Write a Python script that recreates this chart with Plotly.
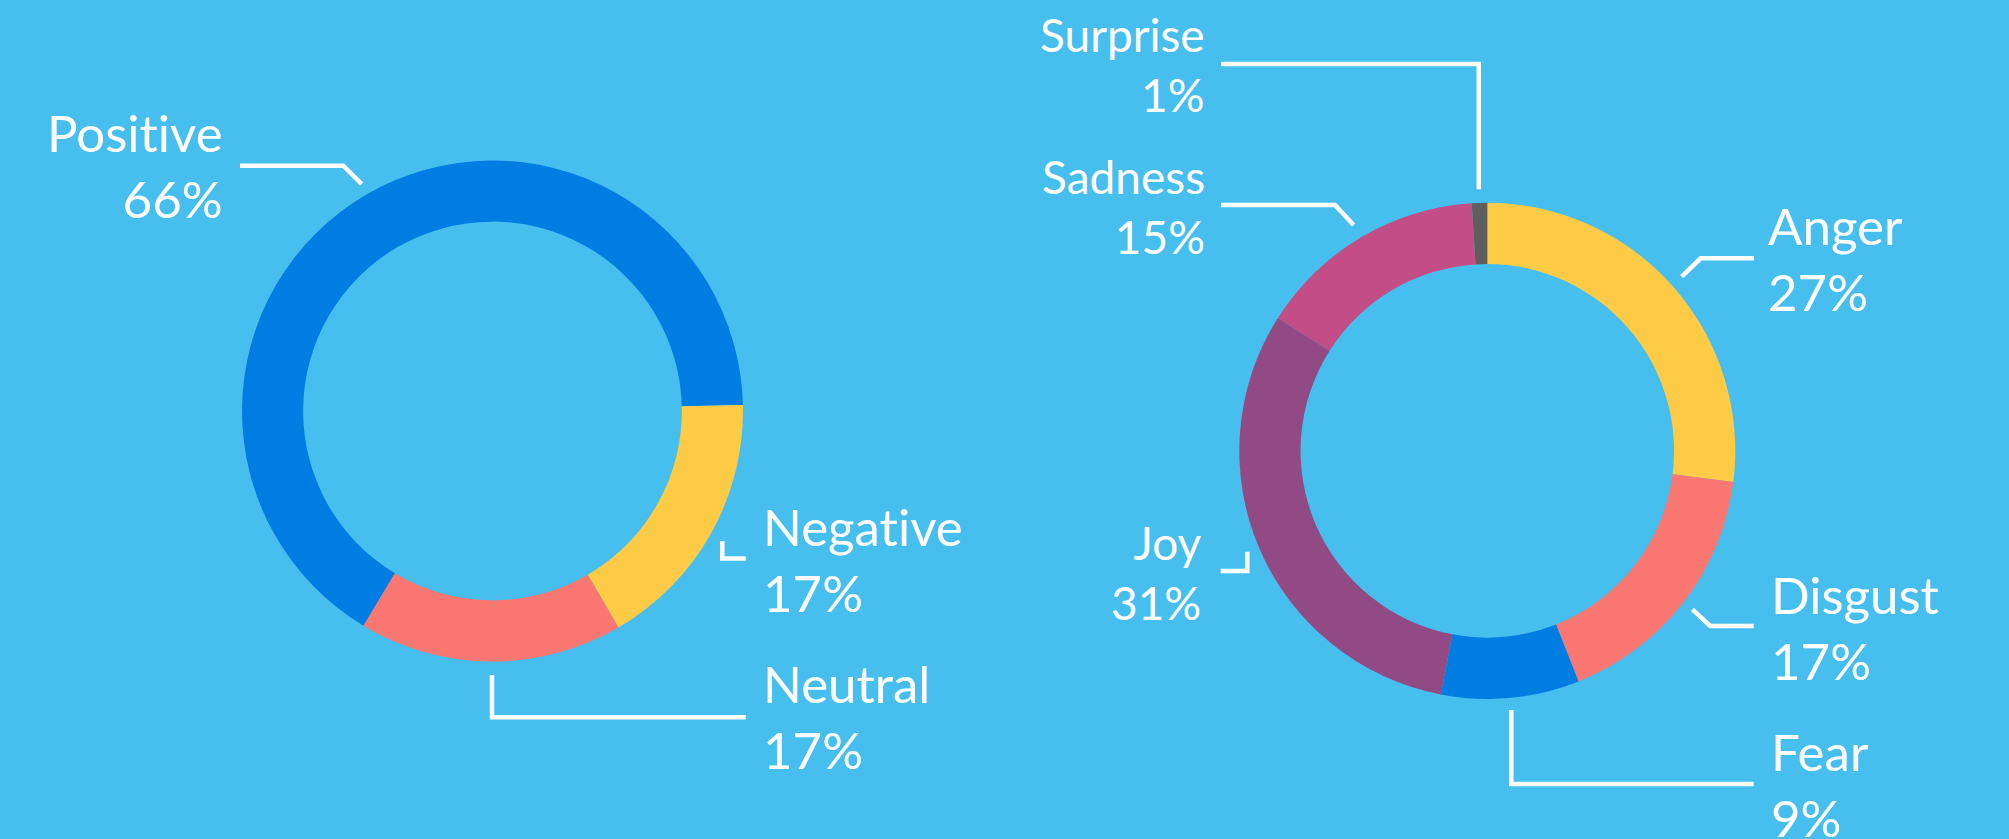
import plotly.graph_objects as go

# ---------------- data ----------------
sentiment_labels = ["Positive", "Negative", "Neutral"]
sentiment_values = [66, 17, 17]
sentiment_colors = ["#007DE2", "#FECB47", "#FB7772"]

emotion_labels = ["Anger", "Disgust", "Fear", "Joy", "Sadness", "Surprise"]
emotion_values = [27, 17, 9, 31, 15, 1]
emotion_colors = ["#FECB47", "#FB7772", "#007DE2", "#924A84", "#C34D87", "#5E5E5E"]

W, H = 2009, 839
BG = "#46BFEE"
FONT = "Lato"


def px(x):
    return x / W


def py(y):
    return 1 - y / H


fig = go.Figure()

# left donut
cx, cy, R = 492.5, 411, 250.5
fig.add_trace(go.Pie(
    labels=sentiment_labels, values=sentiment_values,
    marker=dict(colors=sentiment_colors, line=dict(width=0)),
    hole=0.756, sort=False, direction="clockwise", rotation=211,
    textinfo="none", hoverinfo="label+percent", showlegend=False,
    domain=dict(x=[px(cx - R), px(cx + R)], y=[py(cy + R), py(cy - R)]),
))

# right donut
cx2, cy2, R2 = 1487.3, 450.8, 248
fig.add_trace(go.Pie(
    labels=emotion_labels, values=emotion_values,
    marker=dict(colors=emotion_colors, line=dict(width=0)),
    hole=0.753, sort=False, direction="clockwise", rotation=0,
    textinfo="none", hoverinfo="label+percent", showlegend=False,
    domain=dict(x=[px(cx2 - R2), px(cx2 + R2)], y=[py(cy2 + R2), py(cy2 - R2)]),
))

# label placement (pixel anchors) : (label, value, x, center_y, side, size)
label_pos = [
    ("Positive", sentiment_values[0], 223, 165.6, "right", 51),
    ("Negative", sentiment_values[1], 763, 559, "left", 51),
    ("Neutral", sentiment_values[2], 763, 716.1, "left", 51),
    ("Anger", emotion_values[0], 1768, 258.5, "left", 51),
    ("Disgust", emotion_values[1], 1771, 627.3, "left", 51),
    ("Fear", emotion_values[2], 1771, 784.8, "left", 51),
    ("Joy", emotion_values[3], 1202, 572.1, "right", 46),
    ("Sadness", emotion_values[4], 1204.5, 206.8, "right", 46),
    ("Surprise", emotion_values[5], 1204.5, 64.8, "right", 46),
]

annotations = []
for name, val, x, y, side, size in label_pos:
    shown = name.replace("ti", "t\u200ci")  # avoid the Lato "ti" ligature
    annotations.append(dict(
        text=f"{shown}<br>{val}%", xref="paper", yref="paper",
        x=px(x), y=py(y), xanchor=side, yanchor="middle", align=side,
        showarrow=False, borderpad=0, borderwidth=0,
        font=dict(family=FONT, size=size, color="white"),
    ))

# leader lines (pixel paths)
leaders = [
    [(240, 165.7), (343.3, 165.7), (361.7, 184)],
    [(722.3, 541), (722.3, 558.5), (745.7, 558.5)],
    [(492, 675), (492, 717.3), (745.7, 717.3)],
    [(1221, 64), (1478.8, 64), (1478.8, 189.3)],
    [(1221, 205), (1335, 205), (1353.6, 225)],
    [(1220.7, 571), (1247.3, 571), (1247.3, 551.7)],
    [(1681.7, 276.7), (1700.7, 258.3), (1754, 258.3)],
    [(1692.4, 609.3), (1710.2, 626), (1753.7, 626)],
    [(1511.3, 710), (1511.3, 784), (1753.7, 784)],
]
shapes = []
for pts in leaders:
    path = "M " + " L ".join(f"{px(x):.6f},{py(y):.6f}" for x, y in pts)
    shapes.append(dict(type="path", path=path, xref="paper", yref="paper",
                       line=dict(color="white", width=4.5)))

fig.update_layout(
    width=W, height=H,
    margin=dict(l=0, r=0, t=0, b=0),
    paper_bgcolor=BG, plot_bgcolor=BG,
    annotations=annotations, shapes=shapes,
    font=dict(family=FONT, color="white"),
)

fig.write_html(
    "out.html",
    config={"displayModeBar": False},
    post_script="document.body.style.margin='0';document.body.style.padding='0';"
                "document.body.style.overflow='hidden';"
                "document.body.style.background='" + BG + "';",
)
